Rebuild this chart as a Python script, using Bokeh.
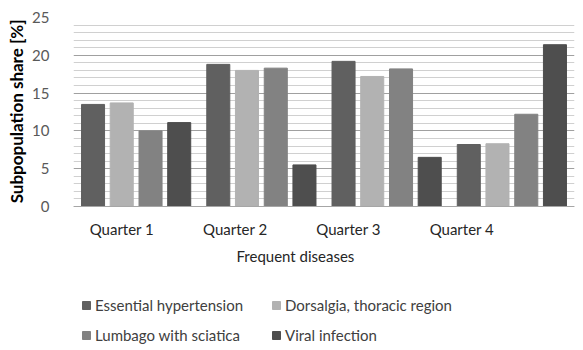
from bokeh.plotting import figure
from bokeh.models import (Range1d, LinearAxis, FixedTicker, Legend,
                          LegendItem, Title, Label, ColumnDataSource)
from bokeh.transform import dodge
from bokeh.embed import file_html
from bokeh.resources import INLINE

quarters = ["Quarter 1", "Quarter 2", "Quarter 3", "Quarter 4"]
series_names = ["Essential hypertension", "Dorsalgia, thoracic region",
                "Lumbago with sciatica", "Viral infection"]
hypertension = [13.5, 18.8, 19.2, 8.2]
dorsalgia = [13.7, 18.0, 17.2, 8.3]
lumbago = [10.0, 18.3, 18.2, 12.2]
viral = [11.1, 5.5, 6.5, 21.4]
y_ticks = [0, 5, 10, 15, 20, 25]
x_title = "Frequent diseases"
y_title = "Subpopulation share [%]"

colors = ["#606060", "#b2b2b2", "#828282", "#4e4e4e"]
FONT = "Lato"

n = len(quarters)
src = ColumnDataSource(dict(pos=[i + 0.5 for i in range(n)], s0=hypertension,
                            s1=dorsalgia, s2=lumbago, s3=viral))

# frame spans from the top of the plot area down to the bottom of the page;
# the region below 0 holds the category labels, axis title and legend
p = figure(width=575, height=350, x_range=Range1d(0, n),
           y_range=Range1d(-19.05, 25), output_backend="svg",
           toolbar_location=None, min_border_left=62, min_border_right=1,
           min_border_top=17, min_border_bottom=0)
p.outline_line_color = None
p.background_fill_color = "white"
p.border_fill_color = "white"

offsets = [-0.344, -0.115, 0.115, 0.344]
renderers = []
for i, (off, col) in enumerate(zip(offsets, colors)):
    r = p.vbar(x=dodge("pos", off), top="s%d" % i, width=0.184,
               source=src, fill_color=col, line_color=col)
    renderers.append(r)

p.xaxis.visible = False
p.xgrid.visible = False

p.extra_x_ranges = {"lab": Range1d(0.573, 4.994)}
xax = LinearAxis(x_range_name="lab", fixed_location=0,
                 ticker=FixedTicker(ticks=[1, 2, 3, 4]),
                 major_label_overrides={i + 1: q for i, q in enumerate(quarters)})
xax.axis_line_color = "#a6a6a6"
xax.major_tick_line_color = None
xax.minor_tick_line_color = None
xax.major_label_standoff = 8
xax.major_label_text_font = FONT
xax.major_label_text_font_size = "15px"
xax.major_label_text_color = "#262626"
p.add_layout(xax, "below")

yax = p.yaxis[0]
yax.ticker = FixedTicker(ticks=y_ticks, minor_ticks=[i for i in range(26) if i % 5])
yax.axis_line_color = None
yax.major_tick_line_color = None
yax.minor_tick_line_color = None
yax.major_label_standoff = 18
yax.major_label_text_font = FONT
yax.major_label_text_font_size = "15px"
yax.major_label_text_color = "#595959"

p.add_layout(Title(text=y_title, align="right", offset=2, standoff=6,
                   text_font=FONT, text_font_size="17px", text_font_style="bold",
                   text_color="#000000"), "left")

p.ygrid.grid_line_color = "#a0a0a0"
p.ygrid.minor_grid_line_color = "#d0d0d0"

p.add_layout(Label(x=163, y=95, x_units="screen", y_units="screen",
                   text=x_title, text_font=FONT, text_font_size="15px",
                   text_color="#262626", text_baseline="alphabetic"))

order = [0, 2, 1, 3]
legend = Legend(items=[LegendItem(label=series_names[k], renderers=[renderers[k]])
                       for k in order],
                location=(8, 6), ncols=2, padding=0, margin=0,
                spacing=12, glyph_width=10, glyph_height=10, label_standoff=4,
                label_width=164,
                label_text_font=FONT, label_text_font_size="15px",
                label_text_color="#404040", border_line_color=None,
                background_fill_alpha=0)
p.add_layout(legend)

open("out.html", "w").write(file_html(p, INLINE))
